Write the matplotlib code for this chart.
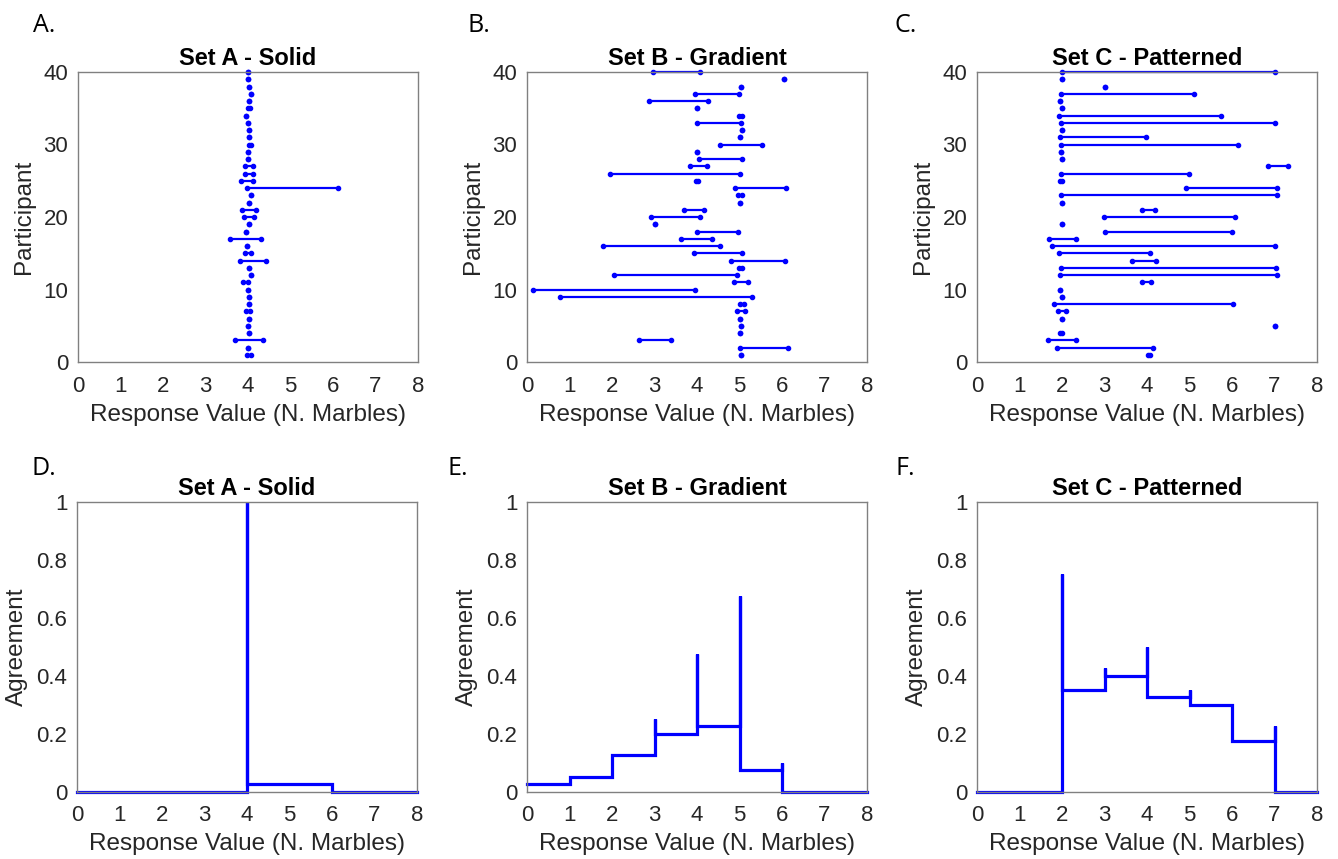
import numpy as np
import matplotlib
matplotlib.use("Agg")
import matplotlib.pyplot as plt

plt.rcParams['font.family'] = ['Liberation Sans', 'DejaVu Sans']

participants = np.arange(1, 41)

# response intervals per participant (1..40)
set_a_lo = [3.98, 4.00, 3.70, 4.02, 4.00, 4.02, 3.95, 4.03, 4.03, 4.00,
            3.88, 4.06, 4.02, 3.80, 3.94, 3.98, 3.58, 3.96, 4.02, 3.90,
            3.86, 4.02, 4.06, 3.98, 3.83, 3.92, 3.92, 4.00, 4.00, 4.03,
            4.03, 4.03, 4.00, 3.95, 4.00, 4.03, 4.06, 4.03, 4.00, 4.01]
set_a_hi = [4.07, 4.00, 4.36, 4.02, 4.00, 4.02, 4.05, 4.03, 4.03, 4.00,
            4.00, 4.06, 4.02, 4.43, 4.06, 3.98, 4.31, 3.96, 4.02, 4.13,
            4.18, 4.02, 4.06, 6.12, 4.11, 4.12, 4.12, 4.00, 4.00, 4.08,
            4.03, 4.03, 4.00, 3.95, 4.05, 4.03, 4.06, 4.03, 4.00, 4.01]

set_b_lo = [5.04, 5.02, 2.64, 5.00, 5.03, 5.02, 4.94, 5.00, 0.78, 0.13,
            4.87, 2.04, 4.98, 4.81, 3.94, 1.78, 3.62, 4.00, 3.02, 2.92,
            3.70, 5.00, 4.97, 4.90, 3.97, 1.96, 3.83, 4.04, 4.00, 4.54,
            5.02, 5.06, 4.01, 4.98, 3.99, 2.88, 3.95, 5.03, 6.05, 2.96]
set_b_hi = [5.04, 6.14, 3.38, 5.00, 5.03, 5.02, 5.12, 5.10, 5.29, 3.96,
            5.21, 4.95, 5.06, 6.06, 5.06, 4.54, 4.36, 4.96, 3.02, 4.06,
            4.17, 5.00, 5.07, 6.10, 4.03, 5.00, 4.24, 5.07, 4.00, 5.53,
            5.02, 5.06, 5.04, 5.06, 3.99, 4.25, 4.99, 5.03, 6.05, 4.06]

set_c_lo = [4.02, 1.88, 1.68, 1.96, 7.01, 1.99, 1.91, 1.80, 2.00, 1.96,
            3.88, 1.96, 1.98, 3.64, 1.93, 1.77, 1.70, 3.01, 2.00, 2.99,
            3.88, 2.00, 1.98, 4.91, 1.96, 1.98, 6.85, 2.00, 1.98, 1.98,
            1.95, 2.00, 1.98, 1.93, 2.00, 1.96, 1.98, 3.00, 2.00, 2.00]
set_c_hi = [4.06, 4.13, 2.33, 2.00, 7.01, 1.99, 2.10, 6.02, 2.00, 1.96,
            4.09, 7.07, 7.04, 4.20, 4.06, 7.02, 2.32, 6.00, 2.00, 6.07,
            4.19, 2.00, 7.05, 7.07, 2.00, 4.98, 7.32, 2.00, 1.98, 6.14,
            3.98, 2.00, 7.02, 5.75, 2.00, 1.96, 5.10, 3.00, 2.00, 7.00]

# agreement: value on each unit interval [k, k+1] and value at each integer k
marbles = np.arange(0, 9)
agree_a_seg = [0, 0, 0, 0, 0.025, 0.025, 0, 0]
agree_a_pt = [0, 0, 0, 0, 1.0, 0.025, 0.025, 0, 0]
agree_b_seg = [0.025, 0.05, 0.125, 0.2, 0.225, 0.075, 0, 0]
agree_b_pt = [0.025, 0.05, 0.125, 0.25, 0.475, 0.675, 0.1, 0, 0]
agree_c_seg = [0, 0, 0.35, 0.4, 0.325, 0.3, 0.175, 0]
agree_c_pt = [0, 0, 0.75, 0.425, 0.5, 0.35, 0.3, 0.225, 0]

titles = ["Set A - Solid", "Set B - Gradient", "Set C - Patterned"]
letters_top = ["A.", "B.", "C."]
letters_bottom = ["D.", "E.", "F."]

W, H = 1338, 859
blue = (0, 0, 1)
text_col = "#262626"
spine_col = "#808080"


def px_axes(fig, left, top, right, bottom):
    return fig.add_axes([left / W, 1 - bottom / H, (right - left) / W, (bottom - top) / H])


def style(ax):
    for s in ax.spines.values():
        s.set_color(spine_col)
        s.set_linewidth(1.0)
    ax.tick_params(length=0, labelsize=16, labelcolor=text_col)
    ax.tick_params(axis='x', pad=10)
    ax.tick_params(axis='y', pad=7)
    ax.set_xlim(0, 8)
    ax.set_xticks(range(0, 9))
    ax.set_xlabel("Response Value (N. Marbles)", fontsize=17.5, color=text_col, labelpad=5)


fig = plt.figure(figsize=(W / 100, H / 100), dpi=100)

top_lefts = [78, 527, 977]
intervals = [(set_a_lo, set_a_hi), (set_b_lo, set_b_hi), (set_c_lo, set_c_hi)]
letter_x_top = [33, 468, 895]
letter_x_bottom = [32, 447, 895]

for i in range(3):
    left = top_lefts[i]
    ax = px_axes(fig, left, 72, left + 340, 362)
    style(ax)
    lo, hi = intervals[i]
    for p, a, b in zip(participants, lo, hi):
        ax.plot([a, b], [p, p], color=blue, linewidth=1.6, marker='o',
                markersize=3.0, clip_on=False)
    ax.set_ylim(0, 40)
    ax.set_yticks(range(0, 41, 10))
    ax.set_ylabel("Participant", fontsize=17.5, color=text_col, labelpad=6)
    ax.set_title(titles[i], fontsize=17, fontweight='bold', pad=5)
    fig.text(letter_x_top[i] / W, 1 - 32 / H, letters_top[i], fontsize=18,
             family=['Open Sans', 'DejaVu Sans'], ha='left', va='baseline')

agreements = [(agree_a_seg, agree_a_pt), (agree_b_seg, agree_b_pt), (agree_c_seg, agree_c_pt)]
for i in range(3):
    left = top_lefts[i] - (1 if i == 0 else 0)
    ax = px_axes(fig, left, 502, left + 340, 791.5)
    style(ax)
    seg, pt = agreements[i]
    xs, ys = [], []
    for k in marbles:
        if k > 0:
            xs.append(k)
            ys.append(seg[k - 1])
        xs.append(k)
        ys.append(pt[k])
        if k < 8:
            xs.append(k)
            ys.append(seg[k])
    ax.plot(xs, ys, color=blue, linewidth=2.3, clip_on=False, solid_joinstyle='miter')
    ax.set_ylim(0, 1)
    ax.set_yticks([0, 0.2, 0.4, 0.6, 0.8, 1])
    ax.set_yticklabels(["0", "0.2", "0.4", "0.6", "0.8", "1"])
    ax.set_ylabel("Agreement", fontsize=17.5, color=text_col, labelpad=6)
    ax.set_title(titles[i], fontsize=17, fontweight='bold', pad=5)
    fig.text(letter_x_bottom[i] / W, 1 - 475 / H, letters_bottom[i], fontsize=18,
             family=['Open Sans', 'DejaVu Sans'], ha='left', va='baseline')

fig.savefig("out.png", dpi=100)
